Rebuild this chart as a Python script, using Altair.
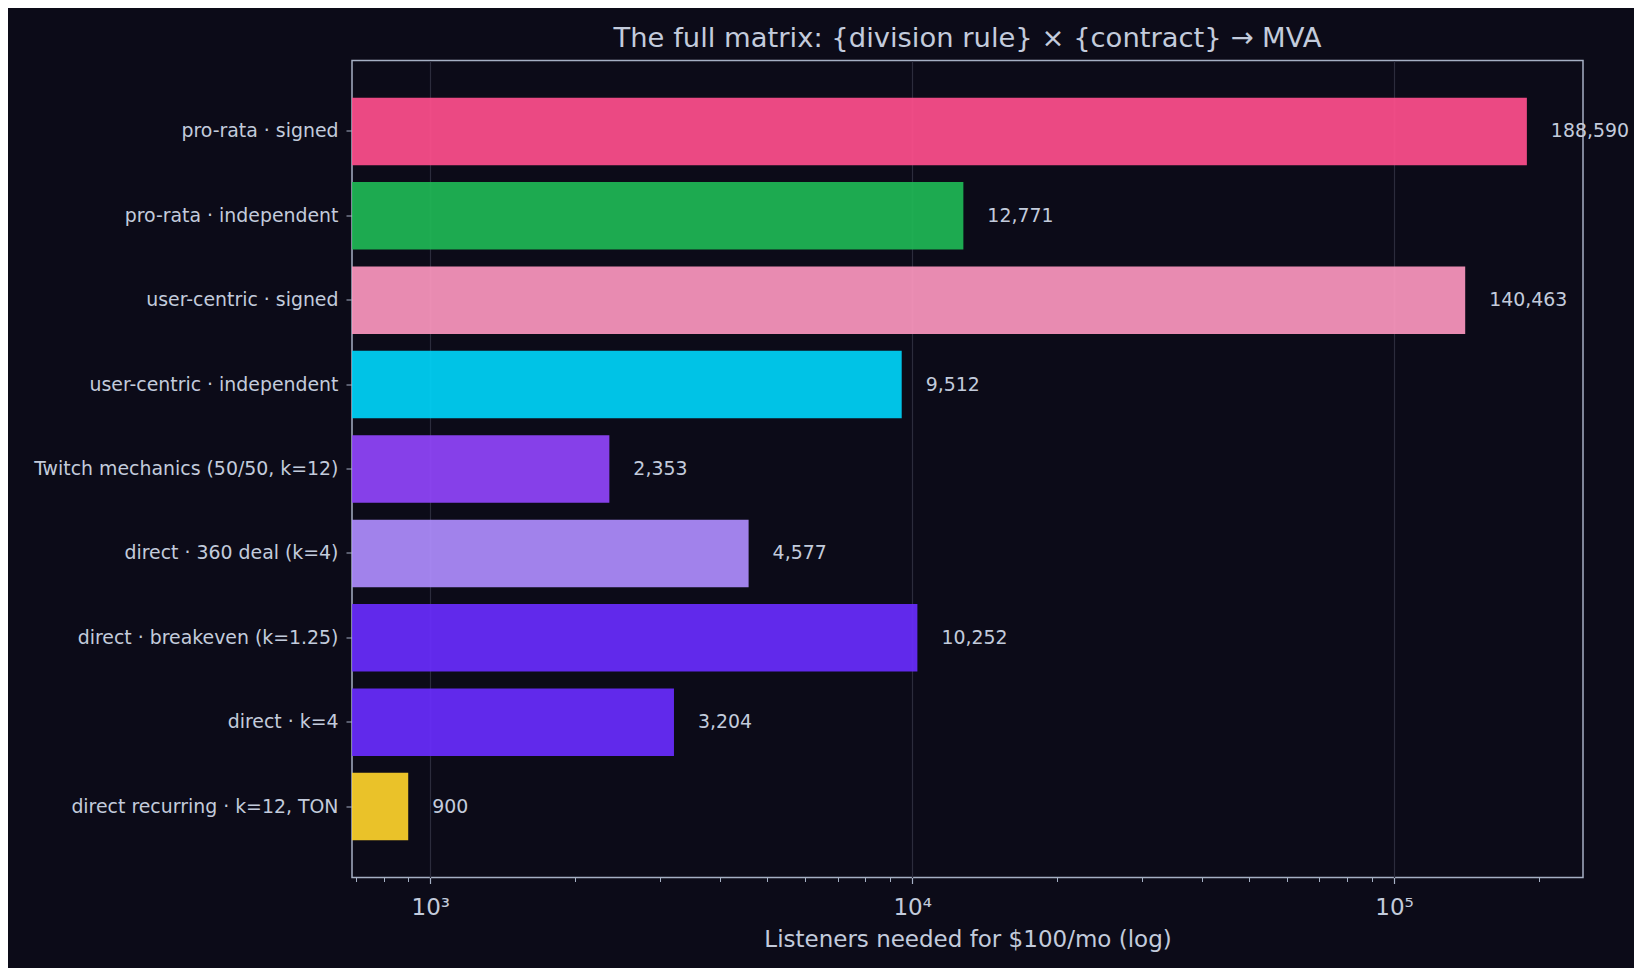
import altair as alt
import pandas as pd

# values
labels = [
    "pro-rata · signed",
    "pro-rata · independent",
    "user-centric · signed",
    "user-centric · independent",
    "Twitch mechanics (50/50, k=12)",
    "direct · 360 deal (k=4)",
    "direct · breakeven (k=1.25)",
    "direct · k=4",
    "direct recurring · k=12, TON",
]
listeners = [188590, 12771, 140463, 9512, 2353, 4577, 10252, 3204, 900]
colors = ["#ff4f8d", "#20b956", "#fc97bf", "#00d4f8", "#9145fc",
          "#af8dfe", "#692dfe", "#692dfe", "#fed32b"]

major_ticks = [1000, 10000, 100000]
minor_ticks = [700, 800, 900,
               2000, 3000, 4000, 5000, 6000, 7000, 8000, 9000,
               20000, 30000, 40000, 50000, 60000, 70000, 80000, 90000,
               200000]
x_domain = [688, 246600]

BG = "#0c0b18"
TEXT = "#c3cbdc"
FRAME = "#a6b0c4"
FONT = "DejaVu Sans"

df = pd.DataFrame({"label": labels, "value": listeners, "color": colors})
df["base"] = x_domain[0]
df["text"] = df["value"].map(lambda v: f"{v:,}")

x_scale = alt.Scale(type="log", domain=x_domain, nice=False)
y_enc = alt.Y(
    "label:N", sort=labels, title=None,
    scale=alt.Scale(paddingInner=0.2, paddingOuter=0.44),
    axis=alt.Axis(labelFontSize=18.9, labelColor=TEXT, labelFont=FONT,
                  labelLimit=0, tickColor=FRAME, tickSize=6, labelPadding=8,
                  domain=False, grid=False),
)

bars = alt.Chart(df).mark_bar(opacity=0.92).encode(
    x=alt.X("value:Q", scale=x_scale,
            title="Listeners needed for $100/mo (log)",
            axis=alt.Axis(values=major_ticks, orient="bottom",
                          labelExpr="datum.value == 1000 ? '10³' : datum.value == 10000 ? '10⁴' : '10⁵'",
                          labelFontSize=23, labelColor=TEXT, labelFont=FONT,
                          labelPadding=13, tickSize=6, tickWidth=1.2, tickColor=FRAME,
                          grid=True, gridColor="#2c2c3c", gridWidth=1.2,
                          domain=False,
                          titleFontSize=23, titleColor=TEXT, titleFont=FONT,
                          titleFontWeight="normal", titleBaseline="alphabetic",
                          titleY=69)),
    x2="base:Q",
    y=y_enc,
    color=alt.Color("color:N", scale=None),
)

value_text = alt.Chart(df).mark_text(
    align="left", baseline="middle", dx=24, fontSize=18.9, color=TEXT, font=FONT
).encode(
    x=alt.X("value:Q", scale=x_scale, title=None,
            axis=alt.Axis(values=minor_ticks, orient="bottom", labels=False,
                          tickSize=4, tickWidth=1, tickColor=FRAME,
                          grid=False, domain=False)),
    y=y_enc,
    text="text:N",
)

chart = alt.layer(bars, value_text).resolve_axis(x="independent").properties(
    width=1231,
    height=817,
    padding={"left": 25, "top": 16.5, "right": 5, "bottom": 16},
    background=BG,
    title=alt.TitleParams(
        "The full matrix: {division rule} × {contract} → MVA",
        fontSize=27.4, color=TEXT, font=FONT, fontWeight="normal",
        anchor="middle", baseline="alphabetic", offset=-14,
    ),
).configure_view(stroke=FRAME, strokeWidth=1.5)

chart.save("out.html", embed_options={"renderer": "svg", "actions": False})
